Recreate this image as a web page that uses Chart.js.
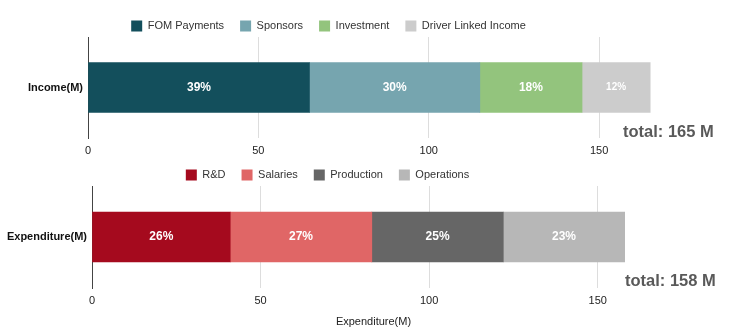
<!DOCTYPE html>
<html>
<head>
<meta charset="utf-8">
<script src="https://cdn.jsdelivr.net/npm/chart.js@4"></script>
<style>
  body { margin: 0; background: #fff; }
  #wrap { position: relative; width: 740px; height: 333px; overflow: hidden; }
  .box { position: absolute; left: 0; width: 740px; }
  .total { position: absolute; font: bold 16.5px "Liberation Sans", Arial, sans-serif; color: #595959; white-space: nowrap; }
</style>
</head>
<body>
<div id="wrap">
  <div class="box" style="top:0;height:165px"><canvas id="incomeChart"></canvas></div>
  <div class="box" style="top:150px;height:183px"><canvas id="expChart"></canvas></div>
  <div class="total" id="incomeTotal" style="left:623px;top:122px"></div>
  <div class="total" id="expTotal" style="left:625px;top:271px"></div>
</div>
<script>
// data
const incomeCategories = ['Income(M)'];
const incomeLabels = ['FOM Payments', 'Sponsors', 'Investment', 'Driver Linked Income'];
const incomeValues = [65, 50, 30, 20];
const incomeColors = ['#134f5c', '#76a5af', '#93c47d', '#cccccc'];

const expCategories = ['Expenditure(M)'];
const expLabels = ['R&D', 'Salaries', 'Production', 'Operations'];
const expValues = [41, 42, 39, 36];
const expColors = ['#a50a1e', '#e06666', '#666666', '#b7b7b7'];

const xTicks = [0, 50, 100, 150];

const FONT = '"Liberation Sans", Arial, sans-serif';
Chart.defaults.font.family = FONT;
Chart.defaults.font.size = 11;
Chart.defaults.color = '#222';

const sum = arr => arr.reduce((a, b) => a + b, 0);

// white percentage labels in the middle of each segment
const percentLabels = {
  id: 'percentLabels',
  afterDatasetsDraw(chart) {
    const ctx = chart.ctx;
    const total = sum(chart.data.datasets.map(d => d.data[0]));
    ctx.save();
    ctx.fillStyle = '#fff';
    ctx.textAlign = 'center';
    ctx.textBaseline = 'middle';
    chart.data.datasets.forEach((ds, i) => {
      chart.getDatasetMeta(i).data.forEach((bar, j) => {
        const p = bar.getCenterPoint();
        const w = Math.abs(bar.x - bar.base);
        ctx.font = 'bold ' + (w < 80 ? 10 : 12) + 'px ' + FONT;
        ctx.fillText(Math.round(ds.data[j] / total * 100) + '%', p.x, p.y);
      });
    });
    ctx.restore();
  }
};

// fix legend height so the plot starts where the reference does
function legendHeight(h) {
  return {
    id: 'legendHeight',
    beforeInit(chart) {
      const fit = chart.legend.fit;
      chart.legend.fit = function () {
        fit.call(this);
        this.height = h;
      };
    }
  };
}

function makeChart(id, cats, labels, values, colors, opts) {
  const datasets = labels.map((l, i) => ({
    label: l,
    data: [values[i]],
    backgroundColor: colors[i],
    barThickness: 50
  }));
  return new Chart(document.getElementById(id), {
    type: 'bar',
    data: { labels: cats, datasets: datasets },
    options: {
      indexAxis: 'y',
      responsive: true,
      maintainAspectRatio: false,
      animation: false,
      layout: { padding: { top: opts.top, right: opts.right, bottom: 0, left: 0 } },
      plugins: {
        legend: {
          position: 'top',
          labels: { boxWidth: 11, boxHeight: 11, padding: 16, color: '#333', font: { size: 11 } }
        },
        tooltip: { enabled: false }
      },
      scales: {
        x: {
          stacked: true,
          min: 0,
          max: 167,
          ticks: { stepSize: 50, padding: 6, color: '#222', font: { size: 11 } },
          afterBuildTicks: axis => {
            axis.ticks = xTicks.map(v => ({ value: v }));
          },
          afterFit: axis => { axis.height = opts.xHeight; },
          grid: { color: '#dddddd', drawTicks: false },
          border: { display: false },
          title: {
            display: !!opts.title,
            text: opts.title || '',
            color: '#222',
            font: { size: 11 },
            padding: { top: 8 }
          }
        },
        y: {
          stacked: true,
          afterFit: axis => { axis.width = opts.yWidth; },
          ticks: { padding: 5, color: '#111', font: { size: 11, weight: 'bold' } },
          grid: { display: false, drawTicks: false },
          border: { display: true, color: '#444', width: 1 }
        }
      }
    },
    plugins: [percentLabels, legendHeight(opts.legendH)]
  });
}

makeChart('incomeChart', incomeCategories, incomeLabels, incomeValues, incomeColors,
  { top: 4.5, right: 83, yWidth: 88, xHeight: 27, legendH: 32.5 });
makeChart('expChart', expCategories, expLabels, expValues, expColors,
  { top: 3.5, right: 85, yWidth: 92, xHeight: 45, legendH: 32.5, title: 'Expenditure(M)' });

document.getElementById('incomeTotal').textContent = 'total: ' + sum(incomeValues) + ' M';
document.getElementById('expTotal').textContent = 'total: ' + sum(expValues) + ' M';
</script>
</body>
</html>
